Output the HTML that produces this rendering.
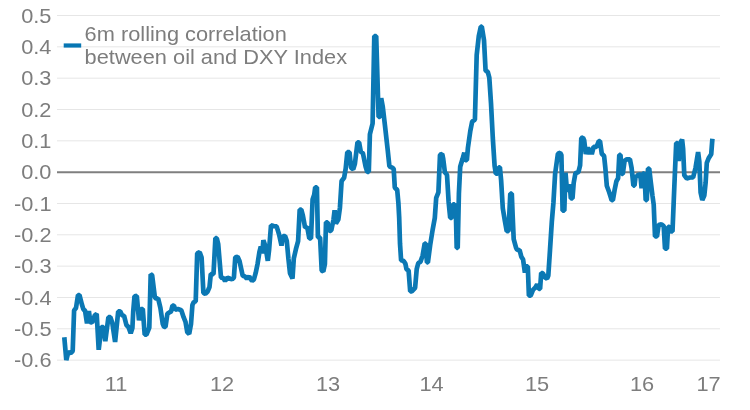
<!DOCTYPE html>
<html><head><meta charset="utf-8"><title>chart</title>
<style>
html,body{margin:0;padding:0;background:#fff;}
body{width:750px;height:410px;overflow:hidden;}
svg{display:block;filter:blur(0.4px);}
text{font-family:"Liberation Sans",sans-serif;font-size:20px;fill:#7d7d7d;}
</style></head><body>
<svg width="750" height="410" viewBox="0 0 750 410">
<rect width="750" height="410" fill="#fff"/>
<g id="grid">
<line x1="57" x2="720" y1="15.50" y2="15.50" stroke="#e6e6e6" stroke-width="1"/>
<line x1="57" x2="720" y1="46.83" y2="46.83" stroke="#e6e6e6" stroke-width="1"/>
<line x1="57" x2="720" y1="78.16" y2="78.16" stroke="#e6e6e6" stroke-width="1"/>
<line x1="57" x2="720" y1="109.49" y2="109.49" stroke="#e6e6e6" stroke-width="1"/>
<line x1="57" x2="720" y1="140.82" y2="140.82" stroke="#e6e6e6" stroke-width="1"/>
<line x1="57" x2="720" y1="203.48" y2="203.48" stroke="#e6e6e6" stroke-width="1"/>
<line x1="57" x2="720" y1="234.81" y2="234.81" stroke="#e6e6e6" stroke-width="1"/>
<line x1="57" x2="720" y1="266.14" y2="266.14" stroke="#e6e6e6" stroke-width="1"/>
<line x1="57" x2="720" y1="297.47" y2="297.47" stroke="#e6e6e6" stroke-width="1"/>
<line x1="57" x2="720" y1="328.80" y2="328.80" stroke="#e6e6e6" stroke-width="1"/>
<line x1="57" x2="720" y1="360.13" y2="360.13" stroke="#e6e6e6" stroke-width="1"/>
</g>
<line x1="57" x2="720" y1="172.15" y2="172.15" stroke="#7f7f7f" stroke-width="2"/>
<g id="ylabels">
<text transform="translate(51.5,22.60) scale(1.09,1)" text-anchor="end">0.5</text>
<text transform="translate(51.5,53.93) scale(1.09,1)" text-anchor="end">0.4</text>
<text transform="translate(51.5,85.26) scale(1.09,1)" text-anchor="end">0.3</text>
<text transform="translate(51.5,116.59) scale(1.09,1)" text-anchor="end">0.2</text>
<text transform="translate(51.5,147.92) scale(1.09,1)" text-anchor="end">0.1</text>
<text transform="translate(51.5,179.25) scale(1.09,1)" text-anchor="end">0.0</text>
<text transform="translate(51.5,210.58) scale(1.09,1)" text-anchor="end">-0.1</text>
<text transform="translate(51.5,241.91) scale(1.09,1)" text-anchor="end">-0.2</text>
<text transform="translate(51.5,273.24) scale(1.09,1)" text-anchor="end">-0.3</text>
<text transform="translate(51.5,304.57) scale(1.09,1)" text-anchor="end">-0.4</text>
<text transform="translate(51.5,335.90) scale(1.09,1)" text-anchor="end">-0.5</text>
<text transform="translate(51.5,367.23) scale(1.09,1)" text-anchor="end">-0.6</text>
</g>
<g id="xlabels">
<text transform="translate(116,391.2) scale(1.09,1)" text-anchor="middle">11</text>
<text transform="translate(222,391.2) scale(1.09,1)" text-anchor="middle">12</text>
<text transform="translate(328,391.2) scale(1.09,1)" text-anchor="middle">13</text>
<text transform="translate(431.6,391.2) scale(1.09,1)" text-anchor="middle">14</text>
<text transform="translate(537,391.2) scale(1.09,1)" text-anchor="middle">15</text>
<text transform="translate(642,391.2) scale(1.09,1)" text-anchor="middle">16</text>
<text transform="translate(708.6,391.2) scale(1.09,1)" text-anchor="middle">17</text>
</g>
<line x1="63.7" x2="81.2" y1="45.5" y2="45.5" stroke="#0776b3" stroke-width="4.2"/>
<text id="lg1" transform="translate(84.6,40.8) scale(1.09,1)">6m rolling correlation</text>
<text id="lg2" transform="translate(84.6,63.8) scale(1.09,1)">between oil and DXY Index</text>
<polyline fill="none" stroke="#0b78b4" stroke-width="4.7" stroke-linejoin="bevel" stroke-linecap="butt" points="64.3,337.3 66.3,360.1 68.2,352.4 70.7,353.0 72.7,351.0 74.1,310.4 76.0,308.0 78.0,295.2 79.5,295.2 81.9,304.5 83.4,309.4 85.0,310.4 87.0,323.4 88.9,311.0 90.3,322.1 92.2,322.5 94.8,315.3 96.7,313.9 98.7,349.8 101.4,327.0 103.4,327.0 105.3,341.3 108.4,317.2 110.4,317.2 112.3,323.0 115.1,342.0 118.2,311.4 120.2,311.4 122.1,315.3 124.1,315.9 126.4,325.0 128.4,327.0 130.7,333.2 132.4,328.0 133.2,312.0 134.5,296.3 136.8,295.9 139.0,320.3 141.0,309.0 142.8,309.0 144.7,334.6 146.5,334.6 149.3,327.6 150.7,274.3 152.1,275.0 154.9,297.5 156.3,298.7 158.1,298.2 160.4,307.9 162.8,324.1 164.1,326.9 165.5,326.9 167.4,313.7 169.2,312.6 171.1,311.4 172.5,305.6 173.9,305.6 175.3,309.8 178.0,309.1 181.3,310.2 183.6,317.2 185.5,321.8 187.3,332.3 189.2,333.9 191.0,324.1 192.4,305.1 193.8,302.1 195.7,301.4 197.2,253.4 199.7,252.2 201.6,257.5 203.4,292.8 205.3,293.9 207.6,291.5 209.5,287.0 210.8,274.1 213.5,274.1 215.4,238.2 216.8,238.2 218.2,244.0 221.0,277.6 223.3,278.0 225.1,281.0 227.4,277.6 230.2,278.7 232.1,279.4 233.9,277.6 235.3,257.2 237.6,256.7 239.5,260.9 242.7,275.7 245.0,276.4 246.9,278.7 249.2,276.4 252.0,281.0 253.9,279.4 255.7,272.9 257.6,263.7 259.4,252.1 260.8,246.6 262.3,253.4 263.4,240.3 265.4,246.3 267.8,260.8 269.1,249.8 271.0,225.4 273.8,226.1 276.6,226.4 279.1,234.5 281.5,245.6 283.0,236.0 285.1,236.0 286.8,241.1 288.4,258.5 290.0,273.3 292.5,278.6 293.8,258.5 295.9,249.2 298.1,241.1 299.7,209.7 301.3,209.7 302.9,215.6 305.1,227.7 307.2,226.9 309.3,238.4 311.0,238.4 312.6,199.5 314.2,194.7 315.2,187.4 316.9,187.4 317.9,237.1 320.1,237.6 321.7,270.6 323.3,271.4 324.9,263.9 326.0,222.3 327.6,222.3 329.2,231.2 331.3,230.4 333.5,219.6 334.6,210.3 335.9,223.6 338.3,219.6 339.9,208.0 341.6,181.0 344.1,177.8 345.7,168.5 347.3,152.2 349.5,152.2 351.1,167.8 353.2,169.2 354.9,163.8 357.5,142.3 359.1,142.3 360.8,151.7 362.9,153.1 365.6,166.5 367.2,171.8 368.8,171.8 369.9,134.3 372.6,123.5 374.3,36.0 376.2,36.0 378.6,117.0 380.0,117.0 381.2,98.2 382.8,107.0 384.9,125.0 387.6,149.0 389.4,166.3 392.6,167.8 393.7,169.0 394.8,187.5 397.2,190.0 398.4,203.0 399.2,218.0 400.0,243.7 401.1,260.3 403.8,261.1 405.4,263.8 406.5,269.2 408.6,270.5 410.2,291.4 411.8,291.4 415.1,287.9 416.7,269.2 418.3,263.0 420.4,261.9 422.6,255.7 424.7,243.5 425.9,243.5 426.9,262.4 427.9,262.4 430.2,245.0 432.6,230.0 434.8,218.0 436.2,197.8 438.4,192.4 440.0,154.8 442.2,154.0 443.2,158.8 444.9,172.2 447.0,174.9 448.6,201.7 450.2,217.8 451.8,217.8 452.9,204.4 454.5,204.4 455.9,213.8 456.7,248.0 457.7,248.0 458.9,193.7 460.2,166.8 462.6,158.8 464.3,152.7 465.2,160.1 466.9,160.1 467.9,148.0 470.3,131.0 472.2,121.4 474.9,119.8 476.7,54.9 478.8,36.1 480.8,26.7 481.8,26.7 484.0,40.1 485.6,71.0 487.7,71.5 489.3,77.7 491.0,103.2 492.8,138.0 494.6,165.8 495.8,173.7 497.6,173.7 498.7,167.3 499.9,167.3 501.1,180.0 502.8,208.4 505.0,221.6 506.7,231.2 508.5,231.2 510.3,193.7 511.8,193.7 512.6,214.3 513.7,239.1 516.1,247.9 517.2,250.0 519.6,250.0 521.3,256.7 523.1,259.6 524.9,272.6 526.0,266.4 527.8,266.4 528.9,295.6 530.7,295.6 533.0,289.8 535.4,287.4 537.1,284.5 538.9,288.9 540.1,288.9 541.2,272.8 543.0,273.4 544.8,277.2 547.1,278.7 548.3,275.7 550.0,250.0 551.8,222.0 553.4,203.0 555.1,174.0 557.9,153.7 560.2,152.8 561.4,155.1 562.6,210.7 564.3,210.7 565.5,172.8 566.7,187.3 567.8,191.5 569.8,184.5 570.8,198.4 572.5,198.4 573.7,182.9 575.4,173.3 578.4,172.1 580.1,165.4 581.3,138.1 583.0,137.6 584.2,140.5 585.8,154.1 587.7,147.4 589.6,154.1 590.7,148.0 591.8,154.1 593.6,146.9 596.5,146.9 598.8,141.1 600.0,141.1 601.8,153.8 604.1,156.0 605.3,167.4 606.8,185.7 609.2,192.3 611.7,200.2 612.9,200.2 614.6,190.0 616.4,181.2 618.1,178.3 619.3,154.9 620.5,154.9 621.7,173.9 622.8,173.9 624.6,160.7 626.9,159.3 629.9,159.3 631.6,168.0 633.4,185.6 634.5,185.6 635.7,175.4 637.5,176.8 638.6,173.9 640.4,175.4 641.6,188.4 642.7,173.9 644.5,173.3 645.7,200.2 646.8,200.2 648.0,168.6 649.2,168.6 650.9,183.0 652.5,196.0 653.7,204.5 655.0,236.5 657.0,236.5 658.6,225.1 661.5,224.3 663.7,226.0 665.0,248.6 666.9,248.6 668.1,226.8 669.4,226.8 670.6,231.5 672.5,231.5 673.7,201.8 675.0,170.6 676.2,143.1 677.5,143.1 678.7,161.0 680.0,143.1 682.1,139.6 683.1,148.7 684.3,175.3 686.8,178.4 690.0,177.5 693.1,177.5 695.6,167.5 698.1,152.1 699.3,161.2 700.6,192.4 702.3,200.0 704.3,195.6 705.6,183.1 706.8,162.8 708.7,158.1 711.2,154.3 712.4,138.7"/>
</svg>
</body></html>
